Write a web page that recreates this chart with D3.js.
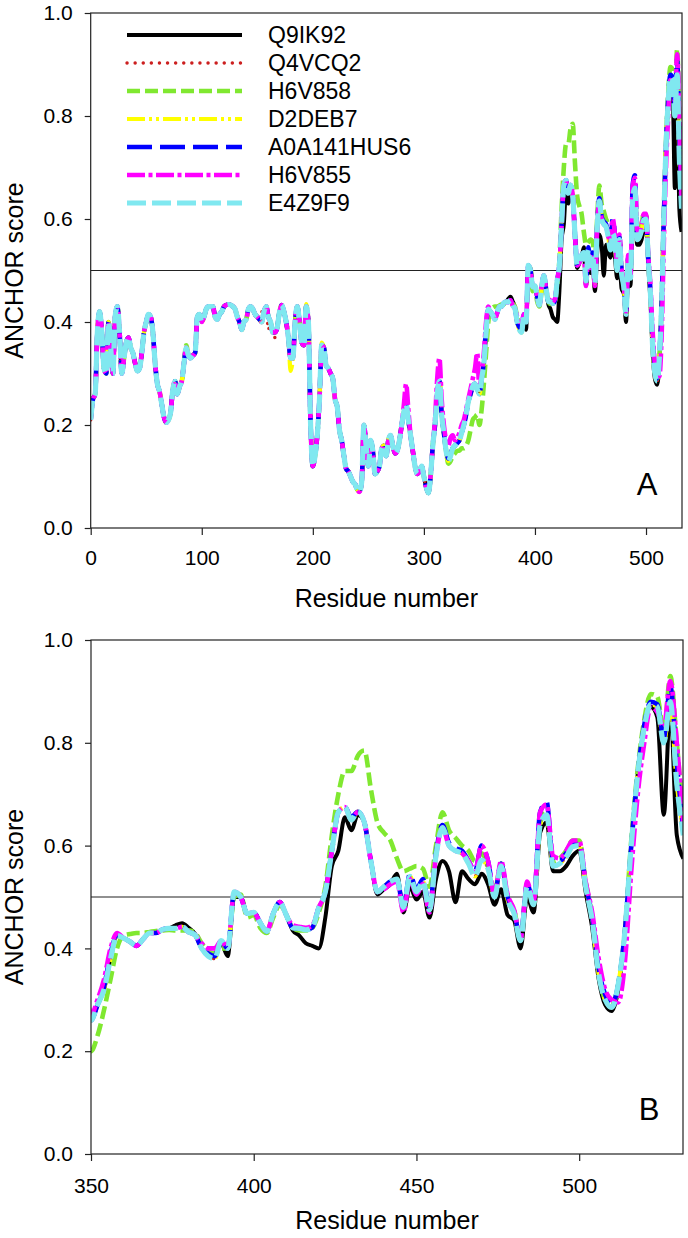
<!DOCTYPE html>
<html><head><meta charset="utf-8">
<script src="https://cdn.jsdelivr.net/npm/d3@7"></script>
<style>
body{margin:0;background:#fff}
svg{display:block}
text{font-family:"Liberation Sans",Arial,Helvetica,sans-serif;fill:#000}
</style>
</head><body>
<svg id="chart" width="688" height="1238"></svg>
<script>
// ---------------- DATA ----------------
// residue positions sampled every 2 residues (0 .. 532)
const residues = d3.range(0, 533, 2);

const seriesNames = ["Q9IK92","Q4VCQ2","H6V858","D2DEB7","A0A141HUS6","H6V855","E4Z9F9"];

const Q9IK92 = [
0.21,0.25,0.26,0.38,0.42,0.38,0.31,0.30,0.40,0.35,
0.30,0.41,0.43,0.38,0.30,0.33,0.36,0.37,0.35,0.34,
0.32,0.305,0.31,0.34,0.38,0.40,0.415,0.41,0.38,0.32,
0.28,0.265,0.24,0.215,0.205,0.21,0.225,0.27,0.285,0.26,
0.275,0.285,0.32,0.35,0.335,0.33,0.335,0.34,0.41,0.415,
0.40,0.41,0.425,0.43,0.43,0.43,0.41,0.405,0.415,0.42,
0.43,0.433,0.434,0.433,0.43,0.425,0.41,0.40,0.385,0.40,
0.405,0.425,0.43,0.425,0.415,0.41,0.405,0.40,0.42,0.43,
0.41,0.40,0.38,0.38,0.39,0.42,0.433,0.42,0.40,0.37,
0.33,0.33,0.40,0.43,0.40,0.36,0.355,0.43,0.40,0.20,
0.12,0.14,0.18,0.25,0.355,0.35,0.315,0.31,0.30,0.29,
0.25,0.235,0.19,0.17,0.14,0.115,0.11,0.10,0.09,0.085,
0.075,0.07,0.09,0.20,0.16,0.12,0.17,0.15,0.105,0.11,
0.12,0.155,0.16,0.14,0.17,0.18,0.16,0.145,0.15,0.17,
0.20,0.225,0.24,0.21,0.18,0.15,0.12,0.105,0.11,0.12,
0.10,0.08,0.068,0.10,0.16,0.20,0.26,0.285,0.22,0.185,
0.15,0.13,0.14,0.155,0.16,0.165,0.17,0.185,0.20,0.22,
0.245,0.26,0.275,0.28,0.27,0.26,0.29,0.32,0.38,0.425,
0.42,0.413,0.405,0.418,0.43,0.43,0.437,0.439,0.445,0.449,
0.44,0.428,0.40,0.39,0.39,0.41,0.385,0.50,0.50,0.468,
0.47,0.45,0.433,0.468,0.49,0.465,0.435,0.425,0.41,0.405,
0.40,0.46,0.56,0.59,0.655,0.63,0.66,0.645,0.57,0.505,
0.515,0.525,0.545,0.47,0.52,0.495,0.51,0.46,0.535,0.57,
0.55,0.49,0.55,0.535,0.525,0.545,0.525,0.485,0.515,0.465,
0.455,0.40,0.50,0.47,0.625,0.645,0.55,0.55,0.56,0.58,
0.59,0.51,0.44,0.34,0.29,0.278,0.32,0.43,0.60,0.74,
0.83,0.87,0.85,0.66,0.87,0.62,0.575];

const Q4VCQ2 = [
0.21,0.25,0.26,0.38,0.42,0.38,0.31,0.30,0.40,0.35,
0.30,0.41,0.43,0.38,0.30,0.33,0.36,0.37,0.35,0.34,
0.32,0.305,0.31,0.34,0.38,0.40,0.415,0.41,0.38,0.32,
0.28,0.265,0.24,0.215,0.205,0.21,0.225,0.27,0.285,0.26,
0.275,0.285,0.32,0.35,0.335,0.33,0.335,0.34,0.41,0.415,
0.40,0.41,0.425,0.43,0.43,0.43,0.41,0.405,0.415,0.42,
0.43,0.433,0.434,0.433,0.43,0.425,0.41,0.40,0.385,0.40,
0.405,0.425,0.43,0.425,0.415,0.41,0.405,0.42,0.42,0.43,
0.385,0.40,0.37,0.37,0.39,0.42,0.433,0.42,0.40,0.37,
0.33,0.33,0.40,0.43,0.40,0.36,0.355,0.43,0.40,0.20,
0.12,0.14,0.18,0.25,0.355,0.35,0.315,0.31,0.30,0.29,
0.25,0.235,0.19,0.17,0.14,0.115,0.11,0.10,0.09,0.085,
0.075,0.07,0.09,0.20,0.16,0.12,0.17,0.15,0.105,0.11,
0.12,0.155,0.16,0.14,0.17,0.18,0.16,0.145,0.15,0.17,
0.20,0.225,0.24,0.21,0.18,0.15,0.12,0.105,0.11,0.12,
0.10,0.08,0.068,0.10,0.16,0.20,0.26,0.285,0.22,0.185,
0.15,0.13,0.14,0.155,0.16,0.165,0.17,0.185,0.20,0.22,
0.245,0.26,0.275,0.28,0.27,0.26,0.29,0.32,0.38,0.425,
0.42,0.413,0.405,0.418,0.43,0.43,0.437,0.439,0.439,0.442,
0.432,0.426,0.40,0.385,0.38,0.415,0.40,0.51,0.50,0.468,
0.47,0.45,0.433,0.468,0.49,0.465,0.44,0.439,0.436,0.441,
0.48,0.51,0.59,0.665,0.675,0.65,0.666,0.645,0.57,0.51,
0.52,0.53,0.535,0.48,0.54,0.51,0.53,0.475,0.58,0.635,
0.60,0.59,0.585,0.565,0.54,0.572,0.555,0.50,0.56,0.495,
0.468,0.415,0.52,0.485,0.64,0.66,0.56,0.565,0.578,0.598,
0.60,0.52,0.455,0.35,0.30,0.285,0.33,0.43,0.60,0.74,
0.83,0.875,0.87,0.80,0.88,0.72,0.62];

const H6V858 = [
0.21,0.25,0.26,0.38,0.42,0.38,0.31,0.30,0.40,0.35,
0.30,0.41,0.43,0.38,0.30,0.33,0.36,0.37,0.35,0.34,
0.32,0.305,0.31,0.34,0.38,0.40,0.415,0.41,0.38,0.32,
0.28,0.265,0.24,0.215,0.205,0.21,0.225,0.27,0.285,0.26,
0.275,0.285,0.32,0.355,0.335,0.33,0.335,0.34,0.41,0.415,
0.40,0.41,0.425,0.43,0.43,0.43,0.41,0.405,0.415,0.42,
0.43,0.433,0.434,0.433,0.43,0.425,0.41,0.40,0.385,0.40,
0.405,0.425,0.43,0.425,0.415,0.41,0.405,0.40,0.42,0.43,
0.41,0.40,0.38,0.38,0.39,0.42,0.433,0.42,0.40,0.37,
0.33,0.33,0.40,0.43,0.40,0.36,0.355,0.43,0.40,0.20,
0.12,0.14,0.18,0.25,0.355,0.35,0.315,0.31,0.30,0.29,
0.25,0.235,0.19,0.17,0.14,0.115,0.11,0.10,0.09,0.085,
0.075,0.07,0.09,0.20,0.16,0.12,0.17,0.15,0.105,0.11,
0.12,0.155,0.16,0.14,0.17,0.18,0.16,0.145,0.15,0.17,
0.20,0.225,0.24,0.21,0.18,0.15,0.12,0.105,0.11,0.12,
0.10,0.08,0.068,0.10,0.16,0.20,0.26,0.285,0.22,0.185,
0.15,0.125,0.13,0.14,0.145,0.15,0.15,0.155,0.155,0.16,
0.17,0.19,0.21,0.215,0.22,0.20,0.23,0.28,0.34,0.40,
0.425,0.428,0.43,0.43,0.432,0.434,0.435,0.436,0.435,0.435,
0.435,0.43,0.41,0.395,0.39,0.40,0.40,0.50,0.505,0.46,
0.465,0.44,0.43,0.46,0.485,0.465,0.44,0.435,0.435,0.44,
0.47,0.52,0.62,0.70,0.745,0.745,0.775,0.785,0.71,0.645,
0.625,0.61,0.575,0.55,0.555,0.56,0.555,0.52,0.60,0.665,
0.63,0.615,0.60,0.59,0.57,0.585,0.56,0.51,0.565,0.50,
0.475,0.42,0.525,0.49,0.645,0.665,0.57,0.575,0.59,0.61,
0.61,0.53,0.46,0.355,0.30,0.29,0.33,0.43,0.61,0.75,
0.845,0.895,0.89,0.82,0.93,0.80,0.65];

const D2DEB7 = [
0.21,0.25,0.26,0.38,0.42,0.38,0.31,0.30,0.40,0.35,
0.30,0.41,0.43,0.38,0.30,0.33,0.36,0.37,0.35,0.34,
0.32,0.305,0.31,0.34,0.38,0.40,0.415,0.41,0.38,0.32,
0.28,0.265,0.24,0.215,0.205,0.21,0.225,0.27,0.285,0.26,
0.275,0.285,0.32,0.35,0.335,0.33,0.335,0.34,0.41,0.415,
0.40,0.41,0.425,0.43,0.43,0.43,0.41,0.405,0.415,0.42,
0.43,0.433,0.434,0.433,0.43,0.425,0.41,0.40,0.385,0.40,
0.405,0.425,0.43,0.425,0.415,0.41,0.405,0.40,0.42,0.43,
0.41,0.40,0.38,0.38,0.39,0.42,0.433,0.42,0.40,0.37,
0.305,0.33,0.40,0.43,0.40,0.36,0.355,0.435,0.40,0.20,
0.12,0.14,0.18,0.25,0.36,0.35,0.315,0.31,0.30,0.29,
0.25,0.235,0.19,0.17,0.14,0.115,0.11,0.10,0.09,0.085,
0.075,0.07,0.09,0.20,0.16,0.12,0.17,0.15,0.105,0.11,
0.12,0.155,0.16,0.14,0.17,0.18,0.16,0.145,0.15,0.17,
0.20,0.225,0.24,0.21,0.18,0.15,0.12,0.105,0.11,0.12,
0.10,0.08,0.068,0.10,0.16,0.20,0.26,0.285,0.22,0.185,
0.15,0.13,0.14,0.155,0.16,0.165,0.17,0.185,0.20,0.22,
0.245,0.26,0.275,0.28,0.27,0.26,0.29,0.32,0.38,0.425,
0.42,0.413,0.405,0.418,0.43,0.43,0.437,0.439,0.439,0.442,
0.432,0.426,0.40,0.385,0.38,0.415,0.40,0.51,0.50,0.468,
0.47,0.45,0.433,0.468,0.49,0.465,0.44,0.439,0.436,0.441,
0.48,0.51,0.59,0.665,0.675,0.65,0.666,0.645,0.57,0.51,
0.52,0.53,0.535,0.48,0.54,0.51,0.53,0.475,0.58,0.635,
0.60,0.59,0.585,0.565,0.54,0.572,0.555,0.50,0.56,0.495,
0.468,0.415,0.52,0.485,0.64,0.66,0.56,0.565,0.578,0.598,
0.60,0.52,0.455,0.35,0.30,0.285,0.33,0.43,0.60,0.74,
0.83,0.875,0.87,0.80,0.87,0.72,0.63];

const A0A141HUS6 = [
0.21,0.25,0.26,0.38,0.42,0.38,0.31,0.30,0.40,0.35,
0.30,0.41,0.43,0.38,0.30,0.33,0.36,0.37,0.35,0.34,
0.32,0.305,0.31,0.34,0.38,0.40,0.415,0.41,0.38,0.32,
0.28,0.265,0.24,0.215,0.205,0.21,0.225,0.27,0.285,0.26,
0.275,0.285,0.32,0.35,0.335,0.33,0.335,0.34,0.41,0.415,
0.40,0.41,0.425,0.43,0.43,0.43,0.41,0.405,0.415,0.42,
0.43,0.433,0.434,0.433,0.43,0.425,0.41,0.40,0.385,0.40,
0.405,0.425,0.43,0.425,0.415,0.41,0.405,0.40,0.42,0.43,
0.41,0.40,0.38,0.38,0.39,0.42,0.433,0.42,0.40,0.37,
0.33,0.33,0.40,0.43,0.40,0.36,0.355,0.43,0.40,0.20,
0.12,0.14,0.18,0.25,0.355,0.35,0.315,0.31,0.30,0.29,
0.25,0.235,0.19,0.17,0.14,0.115,0.11,0.10,0.09,0.085,
0.075,0.07,0.09,0.20,0.16,0.12,0.17,0.15,0.105,0.11,
0.12,0.155,0.16,0.14,0.17,0.18,0.16,0.145,0.15,0.17,
0.20,0.225,0.24,0.21,0.18,0.15,0.12,0.105,0.11,0.12,
0.10,0.08,0.068,0.10,0.16,0.20,0.26,0.285,0.22,0.185,
0.15,0.135,0.145,0.155,0.16,0.165,0.17,0.185,0.20,0.22,
0.245,0.26,0.275,0.28,0.27,0.26,0.29,0.325,0.39,0.425,
0.42,0.413,0.405,0.418,0.43,0.43,0.437,0.439,0.439,0.442,
0.432,0.426,0.40,0.39,0.385,0.415,0.40,0.51,0.50,0.468,
0.47,0.45,0.433,0.468,0.49,0.465,0.44,0.439,0.436,0.441,
0.48,0.51,0.59,0.665,0.675,0.655,0.666,0.645,0.57,0.51,
0.52,0.53,0.535,0.48,0.545,0.515,0.535,0.48,0.585,0.64,
0.605,0.595,0.59,0.57,0.55,0.60,0.57,0.505,0.565,0.50,
0.47,0.42,0.525,0.49,0.665,0.685,0.57,0.57,0.585,0.60,
0.605,0.525,0.46,0.36,0.31,0.29,0.33,0.43,0.60,0.74,
0.835,0.88,0.875,0.81,0.91,0.76,0.63];

const H6V855 = [
0.21,0.25,0.26,0.38,0.42,0.38,0.31,0.30,0.40,0.35,
0.30,0.41,0.43,0.38,0.30,0.33,0.36,0.37,0.35,0.34,
0.32,0.305,0.31,0.34,0.38,0.40,0.415,0.41,0.38,0.32,
0.28,0.265,0.24,0.215,0.205,0.21,0.225,0.27,0.285,0.26,
0.275,0.285,0.32,0.35,0.335,0.33,0.335,0.34,0.41,0.415,
0.40,0.41,0.425,0.43,0.43,0.43,0.41,0.405,0.415,0.42,
0.43,0.433,0.434,0.433,0.43,0.425,0.41,0.40,0.385,0.40,
0.405,0.425,0.43,0.425,0.415,0.41,0.405,0.40,0.42,0.43,
0.41,0.40,0.38,0.38,0.39,0.42,0.433,0.42,0.40,0.37,
0.33,0.33,0.40,0.43,0.40,0.36,0.355,0.43,0.40,0.20,
0.12,0.14,0.18,0.25,0.355,0.35,0.315,0.31,0.30,0.29,
0.25,0.235,0.19,0.17,0.14,0.115,0.11,0.10,0.09,0.085,
0.075,0.07,0.09,0.20,0.16,0.12,0.17,0.15,0.105,0.11,
0.12,0.155,0.16,0.14,0.17,0.18,0.16,0.145,0.15,0.17,
0.20,0.24,0.28,0.23,0.18,0.15,0.12,0.105,0.11,0.12,
0.10,0.08,0.07,0.10,0.16,0.21,0.29,0.33,0.25,0.20,
0.17,0.16,0.175,0.18,0.17,0.175,0.185,0.20,0.21,0.23,
0.25,0.27,0.29,0.31,0.34,0.27,0.30,0.34,0.40,0.43,
0.42,0.413,0.405,0.418,0.43,0.43,0.437,0.439,0.439,0.442,
0.432,0.426,0.41,0.40,0.40,0.415,0.40,0.51,0.50,0.468,
0.47,0.45,0.433,0.468,0.49,0.465,0.445,0.442,0.44,0.445,
0.48,0.51,0.59,0.665,0.675,0.65,0.666,0.645,0.57,0.51,
0.515,0.525,0.53,0.47,0.535,0.505,0.525,0.47,0.58,0.635,
0.60,0.59,0.585,0.57,0.55,0.60,0.57,0.505,0.57,0.505,
0.475,0.42,0.53,0.49,0.665,0.68,0.58,0.575,0.59,0.61,
0.61,0.53,0.47,0.38,0.32,0.30,0.295,0.37,0.55,0.70,
0.80,0.87,0.86,0.83,0.92,0.80,0.64];

const E4Z9F9 = [
0.21,0.25,0.26,0.38,0.42,0.38,0.31,0.30,0.40,0.35,
0.30,0.41,0.43,0.38,0.30,0.33,0.36,0.37,0.35,0.34,
0.32,0.305,0.31,0.34,0.38,0.40,0.415,0.41,0.38,0.32,
0.28,0.265,0.24,0.215,0.205,0.21,0.225,0.27,0.285,0.26,
0.275,0.285,0.32,0.35,0.335,0.33,0.335,0.34,0.41,0.415,
0.40,0.41,0.425,0.43,0.43,0.43,0.41,0.405,0.415,0.42,
0.43,0.433,0.434,0.433,0.43,0.425,0.41,0.40,0.385,0.40,
0.405,0.425,0.43,0.425,0.415,0.41,0.405,0.40,0.42,0.43,
0.41,0.40,0.38,0.38,0.39,0.42,0.433,0.42,0.40,0.37,
0.33,0.33,0.40,0.43,0.40,0.36,0.355,0.43,0.40,0.20,
0.12,0.14,0.18,0.25,0.355,0.35,0.315,0.31,0.30,0.29,
0.25,0.235,0.19,0.17,0.14,0.115,0.11,0.10,0.09,0.085,
0.075,0.07,0.09,0.20,0.16,0.12,0.17,0.15,0.105,0.11,
0.12,0.155,0.16,0.14,0.17,0.18,0.16,0.145,0.15,0.17,
0.20,0.225,0.24,0.21,0.18,0.15,0.12,0.105,0.11,0.12,
0.10,0.08,0.068,0.10,0.16,0.20,0.26,0.285,0.22,0.185,
0.15,0.13,0.14,0.155,0.16,0.165,0.17,0.185,0.20,0.22,
0.245,0.26,0.275,0.28,0.27,0.26,0.29,0.32,0.38,0.425,
0.42,0.413,0.405,0.418,0.43,0.43,0.437,0.439,0.439,0.442,
0.432,0.426,0.40,0.385,0.38,0.415,0.40,0.51,0.50,0.468,
0.47,0.45,0.433,0.468,0.49,0.465,0.44,0.439,0.436,0.441,
0.48,0.51,0.59,0.665,0.675,0.65,0.666,0.645,0.57,0.51,
0.52,0.53,0.535,0.48,0.54,0.51,0.53,0.475,0.58,0.635,
0.60,0.59,0.585,0.565,0.54,0.572,0.555,0.50,0.56,0.495,
0.468,0.415,0.52,0.485,0.64,0.66,0.56,0.565,0.578,0.598,
0.60,0.52,0.455,0.35,0.30,0.285,0.33,0.43,0.60,0.74,
0.83,0.875,0.87,0.80,0.88,0.72,0.62];

const seriesValues = [Q9IK92, Q4VCQ2, H6V858, D2DEB7, A0A141HUS6, H6V855, E4Z9F9];

const yTickValues = [0, 0.2, 0.4, 0.6, 0.8, 1.0];
const xTickValuesA = [0, 100, 200, 300, 400, 500];
const xTickValuesB = [350, 400, 450, 500];
const thresholdValue = 0.5;
const panelLetters = ["A", "B"];
const xTitle = "Residue number";
const yTitle = "ANCHOR score";

// ---------------- STYLE ----------------
const lineStyles = [
  {color:"#000000", width:4,   dash:null,              cap:"butt"},
  {color:"#cc1f1f", width:3.4, dash:"0.1 8",           cap:"round"},
  {color:"#80e830", width:4.6, dash:"13 5",            cap:"butt"},
  {color:"#ffff00", width:4.2, dash:"18 4 3 4 3 4",    cap:"butt"},
  {color:"#0000ff", width:4.6, dash:"25 8",            cap:"butt"},
  {color:"#ff00ff", width:4.6, dash:"18 3.5 4 3.5",    cap:"butt"},
  {color:"#80e8f0", width:5.2, dash:"19 6",            cap:"butt"}
];

const panels = [
  {left:90.7, right:682, top:13, bottom:528, domain:[0,532.4], ticks:xTickValuesA, letter:panelLetters[0],
   letterX:647, letterY:495, titleY:607, tickPad:15, legend:true},
  {left:91, right:683, top:640, bottom:1154, domain:[350,531.9], ticks:xTickValuesB, letter:panelLetters[1],
   letterX:649, letterY:1120, titleY:1229, tickPad:17, legend:false}
];

const svg = d3.select("#chart");

panels.forEach((p, pi) => {
  const x = d3.scaleLinear().domain(p.domain).range([p.left, p.right]);
  const y = d3.scaleLinear().domain([0, 1]).range([p.bottom, p.top]);

  const clipId = "clip" + pi;
  svg.append("clipPath").attr("id", clipId).append("rect")
    .attr("x", p.left).attr("y", p.top - 10)
    .attr("width", p.right - p.left).attr("height", p.bottom - p.top + 10);

  // threshold line
  svg.append("line")
    .attr("x1", p.left).attr("x2", p.right)
    .attr("y1", y(thresholdValue)).attr("y2", y(thresholdValue))
    .attr("stroke", "#222").attr("stroke-width", 1.1);

  const g = svg.append("g").attr("clip-path", `url(#${clipId})`);
  const line = d3.line()
    .x(d => x(d[0])).y(d => y(d[1]))
    .curve(d3.curveMonotoneX);

  seriesValues.forEach((vals, si) => {
    const st = lineStyles[si];
    const pts = residues.map((r, i) => [r, vals[i]]);
    g.append("path")
      .attr("d", line(pts))
      .attr("fill", "none")
      .attr("stroke", st.color)
      .attr("stroke-width", st.width)
      .attr("stroke-dasharray", st.dash)
      .attr("stroke-linecap", st.cap)
      .attr("stroke-linejoin", "round");
  });

  // frame
  svg.append("rect")
    .attr("x", p.left).attr("y", p.top)
    .attr("width", p.right - p.left).attr("height", p.bottom - p.top)
    .attr("fill", "none").attr("stroke", "#222").attr("stroke-width", 1.2);

  // axes
  const yAxis = d3.axisLeft(y).tickValues(yTickValues)
    .tickFormat(d3.format(".1f")).tickSize(6).tickPadding(12).tickSizeOuter(0);
  const ya = svg.append("g").attr("transform", `translate(${p.left},0)`).call(yAxis);
  ya.select(".domain").remove();
  ya.selectAll("line").attr("stroke", "#222").attr("stroke-width", 1.2);
  ya.selectAll("text").attr("font-size", 21).attr("font-family", "Liberation Sans, Arial, sans-serif").attr("fill", "#000");

  const xAxis = d3.axisBottom(x).tickValues(p.ticks)
    .tickFormat(d3.format("d")).tickSize(7).tickPadding(p.tickPad).tickSizeOuter(0);
  const xa = svg.append("g").attr("transform", `translate(0,${p.bottom})`).call(xAxis);
  xa.select(".domain").remove();
  xa.selectAll("line").attr("stroke", "#222").attr("stroke-width", 1.2);
  xa.selectAll("text").attr("font-size", 21).attr("font-family", "Liberation Sans, Arial, sans-serif").attr("fill", "#000");

  // titles
  svg.append("text")
    .attr("x", (p.left + p.right) / 2).attr("y", p.titleY)
    .attr("text-anchor", "middle").attr("font-size", 25)
    .text(xTitle);
  svg.append("text")
    .attr("transform", `translate(23,${(p.top + p.bottom) / 2}) rotate(-90)`)
    .attr("text-anchor", "middle").attr("font-size", 25)
    .text(yTitle);

  // panel letter
  svg.append("text")
    .attr("x", p.letterX).attr("y", p.letterY)
    .attr("text-anchor", "middle").attr("font-size", 31)
    .text(p.letter);

  // legend
  if (p.legend) {
    const lg = svg.append("g");
    seriesNames.forEach((name, i) => {
      const st = lineStyles[i];
      const ly = 35 + i * 28;
      lg.append("line")
        .attr("x1", 127).attr("x2", 242).attr("y1", ly).attr("y2", ly)
        .attr("stroke", st.color).attr("stroke-width", st.width)
        .attr("stroke-dasharray", st.dash).attr("stroke-linecap", st.cap);
      lg.append("text")
        .attr("x", 268).attr("y", ly).attr("dy", "0.36em")
        .attr("font-size", 23).text(name);
    });
  }
});
</script>
</body></html>
